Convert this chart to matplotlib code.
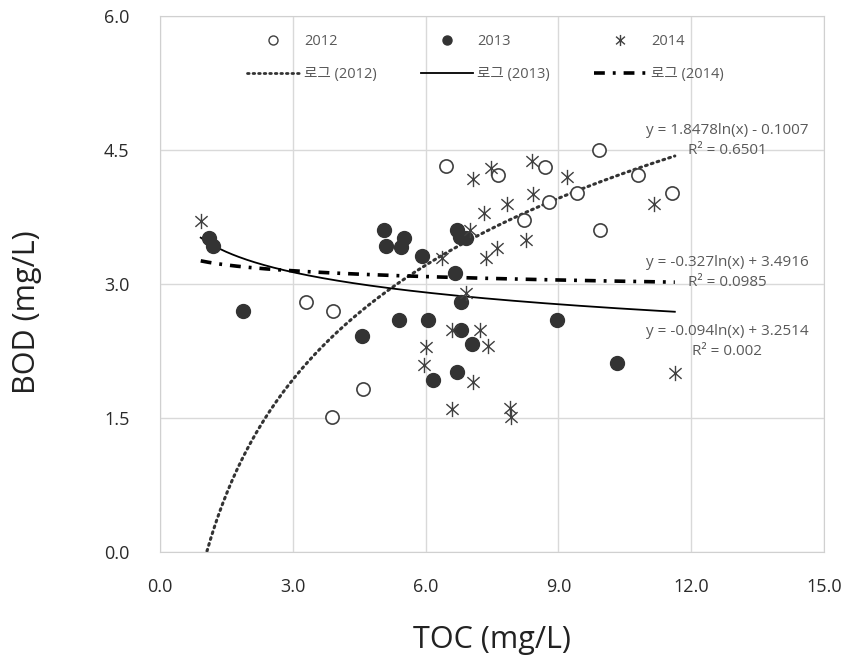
import matplotlib.pyplot as plt
import numpy as np
from matplotlib.path import Path
from matplotlib.lines import Line2D

plt.rcParams['font.family'] = ['Open Sans', 'Noto Sans CJK KR', 'DejaVu Sans']

# 2012
x12 = [3.30, 3.90, 4.59, 3.88, 6.46, 7.64, 8.70, 9.92, 9.41, 8.79, 8.22, 10.79, 11.57, 9.94]
y12 = [2.80, 2.70, 1.82, 1.51, 4.32, 4.22, 4.31, 4.50, 4.02, 3.92, 3.72, 4.22, 4.02, 3.61]
# 2013
x13 = [1.11, 1.20, 1.88, 5.07, 5.51, 5.10, 5.44, 5.92, 5.41, 6.05, 4.56, 6.17, 6.70, 6.78,
       6.91, 6.66, 6.80, 6.79, 7.04, 6.70, 8.96, 10.33]
y13 = [3.51, 3.42, 2.70, 3.61, 3.51, 3.42, 3.41, 3.31, 2.60, 2.60, 2.42, 1.92, 3.61, 3.53,
       3.51, 3.12, 2.80, 2.49, 2.33, 2.02, 2.60, 2.12]
# 2014
x14 = [0.92, 6.38, 6.01, 5.96, 7.00, 7.06, 7.48, 8.40, 8.42, 7.85, 7.32, 8.26, 7.62, 7.36,
       6.91, 9.19, 11.17, 11.63, 6.60, 7.23, 7.42, 7.06, 6.59, 7.91, 7.94]
y14 = [3.71, 3.29, 2.30, 2.09, 3.61, 4.18, 4.30, 4.38, 4.01, 3.90, 3.80, 3.49, 3.40, 3.29,
       2.90, 4.20, 3.90, 2.00, 2.49, 2.49, 2.31, 1.90, 1.60, 1.61, 1.51]

# trendline coefficients (a*ln(x) + b) as printed on the chart
coef12 = [1.8478, -0.1007]
coef13 = [-0.327, 3.4916]
coef14 = [-0.094, 3.2514]
eq_labels = ['y = 1.8478ln(x) - 0.1007\nR² = 0.6501',
             'y = -0.327ln(x) + 3.4916\nR² = 0.0985',
             'y = -0.094ln(x) + 3.2514\nR² = 0.002']

xticks = [0.0, 3.0, 6.0, 9.0, 12.0, 15.0]
yticks = [0.0, 1.5, 3.0, 4.5, 6.0]

# asterisk marker: vertical bar + X
star = Path([(0, -1), (0, 1), (-0.8, -0.7), (0.8, 0.7), (-0.8, 0.7), (0.8, -0.7)],
            [Path.MOVETO, Path.LINETO, Path.MOVETO, Path.LINETO, Path.MOVETO, Path.LINETO])

fig = plt.figure(figsize=(8.45, 6.63), dpi=100)
ax = fig.add_axes([160/845, 1-552/663, 664/845, 536/663])

allx = x12 + x13 + x14
xs = np.linspace(min(allx), max(allx), 300)

ax.plot(x12, y12, 'o', ms=9.5, mfc='white', mec='#404040', mew=1.2, ls='none', zorder=3)
ax.plot(x13, y13, 'o', ms=10, mfc='#333333', mec='#333333', ls='none', zorder=3)
ax.plot(x14, y14, marker=star, ms=11, mfc='none', mec='#404040', mew=1.0, ls='none', zorder=3)

ax.plot(xs, coef12[0]*np.log(xs) + coef12[1], color='#333333', lw=2.2, ls=(0, (0.6, 1.4)),
        dash_capstyle='round', zorder=2)
ax.plot(xs, coef13[0]*np.log(xs) + coef13[1], color='black', lw=1.3, zorder=2)
ax.plot(xs, coef14[0]*np.log(xs) + coef14[1], color='black', lw=2.6, ls=(0, (3, 2.2, 0.8, 2.2)),
        zorder=2)

ax.set_xlim(0, 15)
ax.set_ylim(0, 6)
ax.set_xticks(xticks)
ax.set_yticks(yticks)
ax.set_xticklabels(['%.1f' % t for t in xticks])
ax.set_yticklabels(['%.1f' % t for t in yticks])
ax.tick_params(length=0, labelsize=13, colors='#2a2a2a')
ax.tick_params(axis='x', pad=19)
ax.tick_params(axis='y', pad=22)
ax.grid(color='#d9d9d9', lw=1)
ax.set_axisbelow(True)
for s in ax.spines.values():
    s.set_color('#d0d0d0')

ax.set_xlabel('TOC (mg/L)', fontsize=22, color='#222222')
ax.set_ylabel('BOD (mg/L)', fontsize=22, color='#222222')
ax.xaxis.set_label_coords(0.5, -0.137)
ax.yaxis.set_label_coords(-0.178, 0.448)

eq_pos = [(12.81, 4.61), (12.81, 3.13), (12.81, 2.36)]
for (ex, ey), t in zip(eq_pos, eq_labels):
    ax.text(ex, ey, t, ha='center', va='center', multialignment='center',
            fontsize=11, color='#595959', linespacing=1.45)

handles = [
    Line2D([], [], marker='o', ms=6.5, mfc='white', mec='#404040', ls='none'),
    Line2D([], [], color='#333333', lw=2, ls=(0, (0.6, 1.4)), dash_capstyle='round'),
    Line2D([], [], marker='o', ms=6.5, mfc='#333333', mec='#333333', ls='none'),
    Line2D([], [], color='black', lw=1.3),
    Line2D([], [], marker=star, ms=8, mfc='none', mec='#404040', ls='none'),
    Line2D([], [], color='black', lw=2.6, ls=(0, (3, 2.2, 0.8, 2.2))),
]
labels = ['2012', '로그 (2012)', '2013', '로그 (2013)', '2014', '로그 (2014)']
leg = ax.legend(handles, labels, ncol=3, loc='upper center', bbox_to_anchor=(0.49, 0.99),
                frameon=False, fontsize=10.5, handlelength=3.6, columnspacing=3.0,
                labelspacing=1.2, handletextpad=0.3)
for t in leg.get_texts():
    t.set_color('#595959')

fig.savefig('out.png', dpi=100)
